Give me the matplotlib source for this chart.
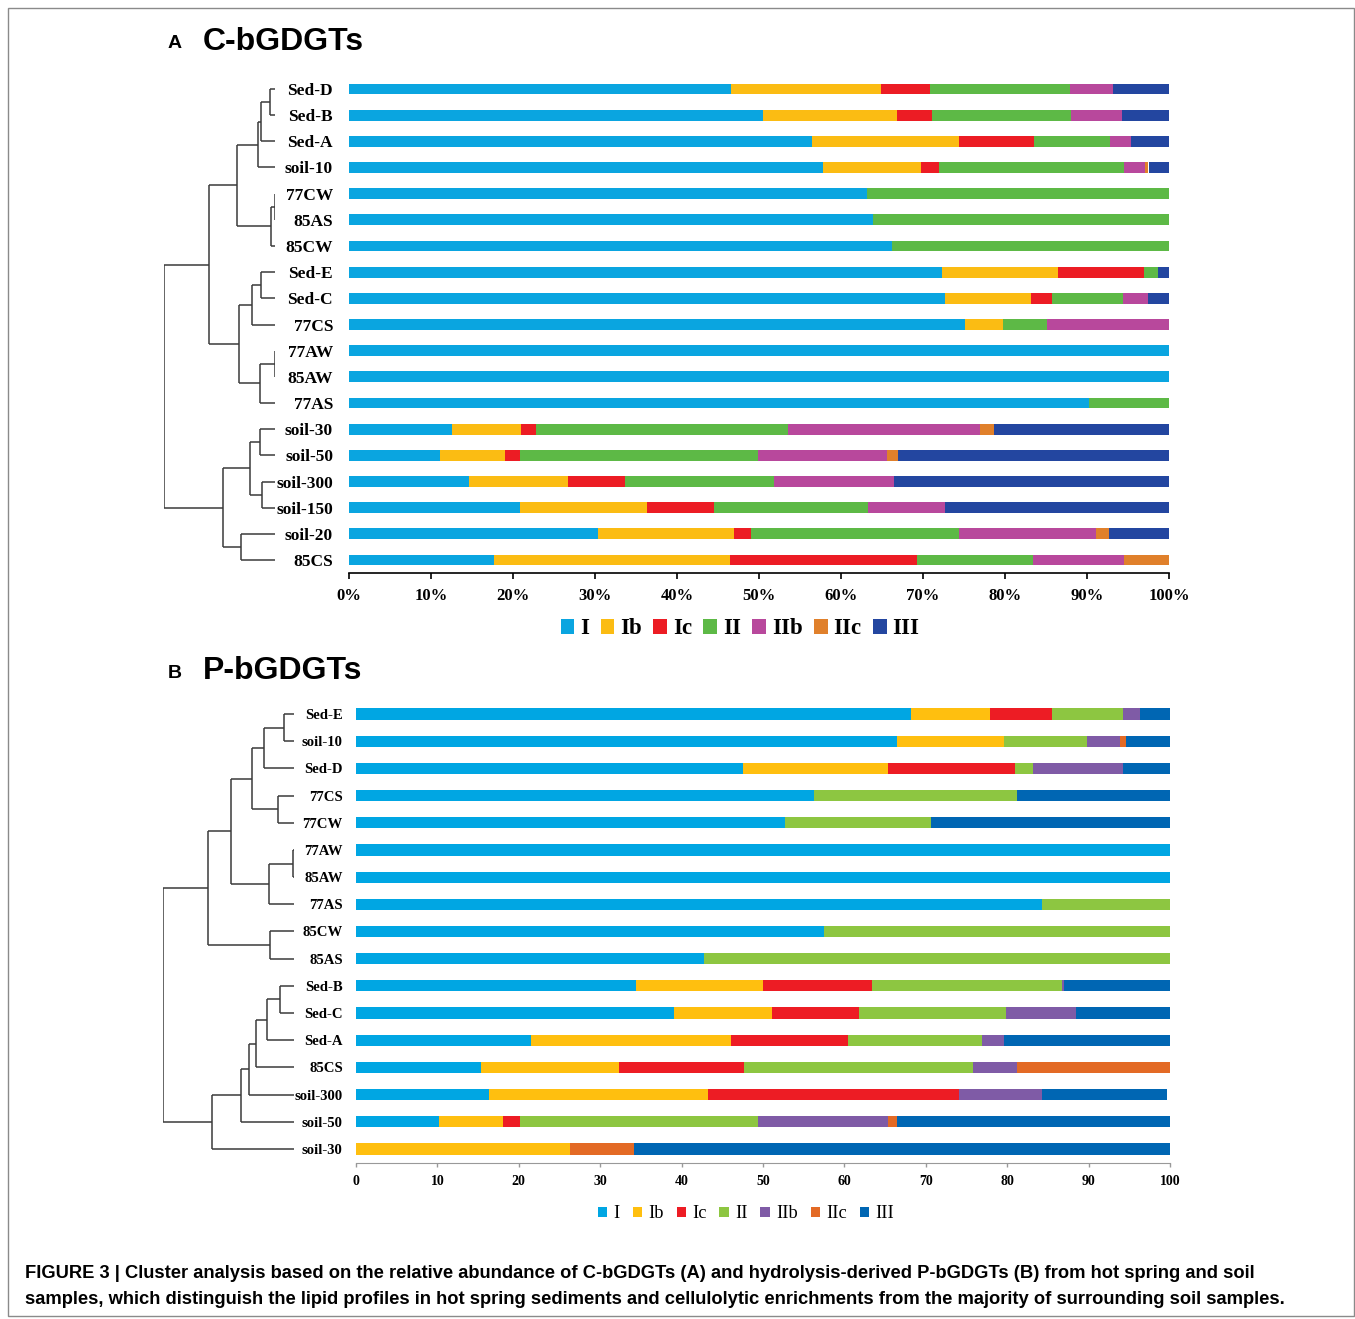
import matplotlib
matplotlib.use('Agg')
import matplotlib.pyplot as plt
from matplotlib.patches import Patch, Rectangle

W, H = 1355, 1319

groups = ['I', 'Ib', 'Ic', 'II', 'IIb', 'IIc', 'III']

# Panel A: C-bGDGTs, relative abundance (%)
samples_a = ['Sed-D', 'Sed-B', 'Sed-A', 'soil-10', '77CW', '85AS', '85CW', 'Sed-E', 'Sed-C', '77CS',
             '77AW', '85AW', '77AS', 'soil-30', 'soil-50', 'soil-300', 'soil-150', 'soil-20', '85CS']
a_I = [46.6, 50.5, 56.5, 57.8, 63.2, 63.9, 66.2, 72.3, 72.7, 75.1, 100, 100, 90.2, 12.6, 11.1, 14.6, 20.9, 30.4, 17.7]
a_Ib = [18.3, 16.3, 17.9, 12.0, 0, 0, 0, 14.2, 10.5, 4.6, 0, 0, 0, 8.4, 7.9, 12.1, 15.5, 16.6, 28.8]
a_Ic = [6.0, 4.3, 9.1, 2.2, 0, 0, 0, 10.5, 2.5, 0, 0, 0, 0, 1.8, 1.8, 7.0, 8.1, 2.0, 22.8]
a_II = [17.0, 16.9, 9.3, 22.5, 36.8, 36.1, 33.8, 1.7, 8.7, 5.4, 0, 0, 9.8, 30.7, 29.1, 18.1, 18.8, 25.4, 14.1]
a_IIb = [5.3, 6.3, 2.6, 2.6, 0, 0, 0, 0, 3.0, 14.9, 0, 0, 0, 23.5, 15.7, 14.7, 9.4, 16.7, 11.1]
a_IIc = [0, 0, 0, 0.4, 0, 0, 0, 0, 0, 0, 0, 0, 0, 1.7, 1.3, 0, 0, 1.6, 5.5]
a_III = [6.8, 5.7, 4.6, 2.5, 0, 0, 0, 1.3, 2.6, 0, 0, 0, 0, 21.3, 33.1, 33.5, 27.3, 7.3, 0]

# Panel A cluster tree: (child, child, rescaled distance); ids >= n are earlier merges
merges_a = [(0, 1, 1.1), (19, 2, 3.2), (20, 3, 3.8), (4, 5, 0.1), (22, 6, 1.0), (21, 23, 8.6),
            (7, 8, 3.2), (25, 9, 5.2), (10, 11, 0.1), (27, 12, 3.4), (26, 28, 8.1), (24, 29, 14.8),
            (13, 14, 3.4), (15, 16, 2.9), (31, 32, 5.6), (17, 18, 7.7), (33, 34, 11.8), (30, 35, 25)]

# Panel B: P-bGDGTs, relative abundance (%)
samples_b = ['Sed-E', 'soil-10', 'Sed-D', '77CS', '77CW', '77AW', '85AW', '77AS', '85CW', '85AS',
             'Sed-B', 'Sed-C', 'Sed-A', '85CS', 'soil-300', 'soil-50', 'soil-30']
b_I = [68.2, 66.5, 47.5, 56.3, 52.7, 100, 100, 84.3, 57.5, 42.7, 34.4, 39.1, 21.5, 15.4, 16.3, 10.2, 0]
b_Ib = [9.7, 13.1, 17.8, 0, 0, 0, 0, 0, 0, 0, 15.6, 12.0, 24.6, 16.9, 27.0, 7.9, 26.3]
b_Ic = [7.6, 0, 15.7, 0, 0, 0, 0, 0, 0, 0, 13.4, 10.7, 14.4, 15.4, 30.8, 2.0, 0]
b_II = [8.7, 10.2, 2.2, 24.9, 18.0, 0, 0, 15.7, 42.5, 57.3, 23.3, 18.1, 16.4, 28.1, 0, 29.3, 0]
b_IIb = [2.1, 4.1, 11.0, 0, 0, 0, 0, 0, 0, 0, 0.3, 8.5, 2.7, 5.4, 10.2, 16.0, 0]
b_IIc = [0, 0.7, 0, 0, 0, 0, 0, 0, 0, 0, 0, 0, 0, 18.8, 0, 1.1, 7.8]
b_III = [3.7, 5.4, 5.8, 18.8, 29.3, 0, 0, 0, 0, 0, 13.0, 11.6, 20.4, 0, 15.3, 33.5, 65.9]

merges_b = [(0, 1, 2.0), (17, 2, 5.7), (3, 4, 3.0), (18, 19, 8.1), (5, 6, 0.1), (21, 7, 4.8),
            (20, 22, 12.1), (8, 9, 4.6), (23, 24, 16.5), (10, 11, 2.7), (26, 12, 5.1), (27, 13, 7.3),
            (28, 14, 8.6), (29, 15, 10.2), (30, 16, 15.6), (25, 31, 25)]

colors_a = ['#0AA5E0', '#FBBC13', '#EC1C24', '#5DB946', '#B8489C', '#E0802B', '#2346A0']
colors_b = ['#00A6E3', '#FFBF0F', '#ED1C24', '#8DC641', '#7F5BA6', '#E36A25', '#0066B3']

serif = 'Liberation Serif'
sans = 'Liberation Sans'


def box(x0, y0, x1, y1):
    # pixel box (top-left origin) -> figure fraction rect
    return [x0 / W, 1 - y1 / H, (x1 - x0) / W, (y1 - y0) / H]


def draw_tree(ax, merges, n):
    ypos = [float(i) for i in range(n)]
    hgt = [0.0] * n
    for a, b, h in merges:
        for c in (a, b):
            ax.plot([hgt[c], h], [ypos[c], ypos[c]], color='#3a3a3a', lw=1.1, solid_capstyle='butt')
        ax.plot([h, h], [ypos[a], ypos[b]], color='#3a3a3a', lw=1.1, solid_capstyle='butt')
        ypos.append((ypos[a] + ypos[b]) / 2)
        hgt.append(h)
    ax.set_xlim(25, 0)
    ax.set_ylim(n - 0.5, -0.5)
    ax.axis('off')


def stacked(ax, samples, series, colors, bh):
    n = len(samples)
    left = [0.0] * n
    for vals, c in zip(series, colors):
        ax.barh(range(n), vals, left=left, height=bh, color=c, edgecolor='none')
        left = [l + v for l, v in zip(left, vals)]
    ax.set_xlim(0, 100)
    ax.set_ylim(n - 0.5, -0.5)
    for s in ['top', 'right', 'left']:
        ax.spines[s].set_visible(False)
    ax.set_xticks(range(0, 101, 10))
    ax.set_yticks(range(n))


fig = plt.figure(figsize=(W / 100, H / 100), dpi=100)

# ---- panel A
ax_a = fig.add_axes(box(349, 75.9, 1169, 573.1))
stacked(ax_a, samples_a, [a_I, a_Ib, a_Ic, a_II, a_IIb, a_IIc, a_III], colors_a, 0.41)
ax_a.set_yticklabels(samples_a, fontfamily=serif, fontweight='bold', fontsize=12.5)
ax_a.set_xticklabels([f'{v}%' for v in range(0, 101, 10)], fontfamily=serif, fontweight='bold', fontsize=12)
ax_a.tick_params(axis='y', length=0, pad=11.5)
ax_a.tick_params(axis='x', length=4, width=1.2, pad=7)
ax_a.spines['bottom'].set_linewidth(1.2)

dn_a = fig.add_axes(box(164, 75.9, 275, 573.1))
draw_tree(dn_a, merges_a, len(samples_a))

fig.text(168 / W, 1 - 43 / H, 'A', fontfamily=sans, fontweight='bold', fontsize=14, va='center')
fig.text(203 / W, 1 - 42 / H, 'C-bGDGTs', fontfamily=sans, fontweight='bold', fontsize=23, va='center')

fig.legend([Patch(facecolor=c, edgecolor='none') for c in colors_a], groups, loc='center',
           bbox_to_anchor=(740 / W, 1 - 629 / H), ncol=7, frameon=False,
           prop={'family': serif, 'weight': 'bold', 'size': 16.5},
           handlelength=0.6, handleheight=0.6, handletextpad=0.25, columnspacing=0.5)

# ---- panel B
ax_b = fig.add_axes(box(356, 700.4, 1170, 1162.6))
stacked(ax_b, samples_b, [b_I, b_Ib, b_Ic, b_II, b_IIb, b_IIc, b_III], colors_b, 0.41)
ax_b.set_yticklabels(samples_b, fontfamily=serif, fontweight='bold', fontsize=10.6)
ax_b.set_xticklabels([str(v) for v in range(0, 101, 10)], fontfamily=serif, fontweight='bold', fontsize=10)
ax_b.tick_params(axis='y', length=0, pad=9.5)
ax_b.tick_params(axis='x', length=3, width=1, color='#999999', pad=6)
ax_b.spines['bottom'].set_color('#999999')

dn_b = fig.add_axes(box(163.3, 700.4, 294, 1162.6))
draw_tree(dn_b, merges_b, len(samples_b))

fig.text(168 / W, 1 - 674 / H, 'B', fontfamily=sans, fontweight='bold', fontsize=14, va='center')
fig.text(203 / W, 1 - 671 / H, 'P-bGDGTs', fontfamily=sans, fontweight='bold', fontsize=23, va='center')

fig.legend([Patch(facecolor=c, edgecolor='none') for c in colors_b], groups, loc='center',
           bbox_to_anchor=(746 / W, 1 - 1214 / H), ncol=7, frameon=False,
           prop={'family': serif, 'size': 13.2},
           handlelength=0.5, handleheight=0.5, handletextpad=0.35, columnspacing=0.7)

# ---- caption and frame
cap1 = ('FIGURE 3 | Cluster analysis based on the relative abundance of C-bGDGTs (A) and '
        'hydrolysis-derived P-bGDGTs (B) from hot spring and soil')
cap2 = ('samples, which distinguish the lipid profiles in hot spring sediments and cellulolytic '
        'enrichments from the majority of surrounding soil samples.')
fig.text(25 / W, 1 - 1274 / H, cap1, fontfamily=sans, fontweight='bold', fontsize=13.2, va='center')
fig.text(25 / W, 1 - 1299 / H, cap2, fontfamily=sans, fontweight='bold', fontsize=13.2, va='center')

fig.patches.append(Rectangle((8 / W, 1 - 1316 / H), 1346 / W, 1308 / H, transform=fig.transFigure,
                             fill=False, edgecolor='#8a8a8a', lw=1))

fig.savefig('out.png', dpi=100)
